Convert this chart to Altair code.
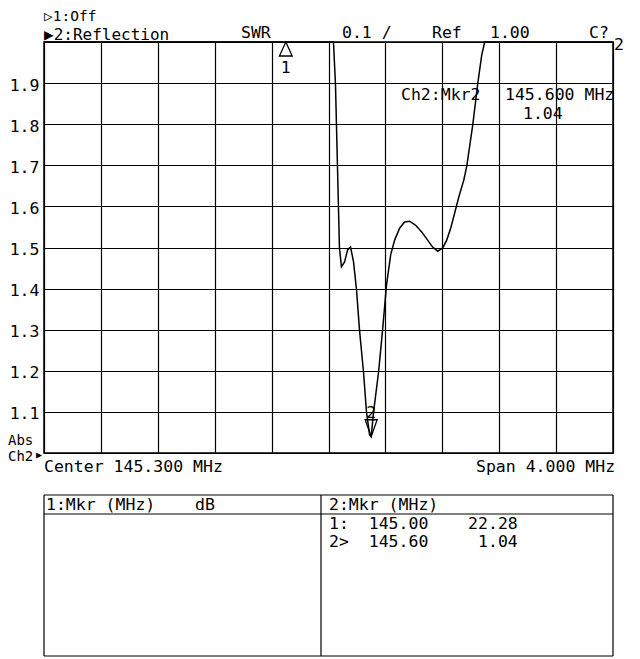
import altair as alt
import pandas as pd

freq_mhz = [143.30, 144.00, 144.60, 145.00, 145.335, 145.349, 145.363, 145.377, 145.391,
            145.413, 145.434, 145.455, 145.476, 145.497, 145.518, 145.546, 145.567, 145.589,
            145.600, 145.617, 145.652, 145.680, 145.708, 145.737, 145.765, 145.800, 145.835,
            145.870, 145.913, 145.955, 145.997, 146.032, 146.068, 146.103, 146.131, 146.159,
            146.187, 146.216, 146.251, 146.272, 146.314, 146.349, 146.377, 146.398, 146.600,
            147.000, 147.300]
swr = [31.0, 27.5, 24.6, 22.28, 2.02, 1.898, 1.698, 1.499, 1.453,
       1.465, 1.494, 1.501, 1.465, 1.397, 1.299, 1.197, 1.100, 1.044,
       1.040, 1.100, 1.197, 1.299, 1.409, 1.482, 1.518, 1.547, 1.562,
       1.564, 1.554, 1.538, 1.518, 1.501, 1.491, 1.499, 1.518, 1.547,
       1.584, 1.623, 1.664, 1.698, 1.798, 1.898, 1.968, 2.00, 2.6,
       4.0, 6.0]
marker_ids = ["1", "2"]
marker_freq = [145.00, 145.60]
marker_swr = [22.28, 1.04]
x_grid = [143.3, 143.7, 144.1, 144.5, 144.9, 145.3, 145.7, 146.1, 146.5, 146.9, 147.3]
y_grid = [1.0, 1.1, 1.2, 1.3, 1.4, 1.5, 1.6, 1.7, 1.8, 1.9, 2.0]

FONT = "DejaVu Sans Mono"
FS = 16.5
NB = "\u00a0"
X0, Y0 = 44, 42      # page position of plot area
W, H = 569, 411

trace = pd.DataFrame({"freq": freq_mhz, "swr": swr})
mk = pd.DataFrame({"id": marker_ids, "freq": marker_freq, "swr": marker_swr})
one = alt.Data(values=[{}])

xs = alt.Scale(domain=[143.3, 147.3], nice=False, zero=False)
ys = alt.Scale(domain=[1.0, 2.0], nice=False, zero=False, clamp=True)

line = alt.Chart(trace).mark_line(color="black", strokeWidth=1.5).encode(
    x=alt.X("freq:Q", scale=xs, title=None,
            axis=alt.Axis(values=x_grid, labels=False, ticks=False, domain=False,
                          grid=True, gridColor="black", gridOpacity=1, gridWidth=1.2)),
    y=alt.Y("swr:Q", scale=ys, title=None,
            axis=alt.Axis(values=y_grid, ticks=False, tickSize=0, domain=False,
                          grid=True, gridColor="black", gridOpacity=1, gridWidth=1.2,
                          labelExpr="datum.value > 1.05 && datum.value < 1.95 ? format(datum.value, '.1f') : ''",
                          labelFont=FONT, labelFontSize=FS, labelColor="black",
                          labelPadding=5, labelBaseline="alphabetic", labelOffset=7)),
)

m1 = alt.Chart(mk).transform_filter("datum.id == '1'").mark_point(
    shape="M0,0L0.8,1.75L-0.8,1.75Z", filled=False, color="black", size=256, strokeWidth=1.3, opacity=1
).encode(x=alt.X("freq:Q", scale=xs), y=alt.Y("swr:Q", scale=ys))
m1t = alt.Chart(mk).transform_filter("datum.id == '1'").mark_text(
    font=FONT, fontSize=FS, color="black", align="center", baseline="alphabetic", yOffset=31
).encode(x=alt.X("freq:Q", scale=xs), y=alt.Y("swr:Q", scale=ys), text="id:N")
m2 = alt.Chart(mk).transform_filter("datum.id == '2'").mark_point(
    shape="M-0.75,-2.1L0.75,-2.1L0,0Z", filled=False, color="black", size=256, strokeWidth=1.3, opacity=1
).encode(x=alt.X("freq:Q", scale=xs), y=alt.Y("swr:Q", scale=ys))
m2t = alt.Chart(mk).transform_filter("datum.id == '2'").mark_text(
    font=FONT, fontSize=FS, color="black", align="center", baseline="alphabetic", yOffset=-19
).encode(x=alt.X("freq:Q", scale=xs), y=alt.Y("swr:Q", scale=ys), text="id:N")


def txt(s, px, py, align="left", size=FS):
    return alt.Chart(one).mark_text(
        text=s.replace(" ", NB), align=align, baseline="alphabetic", font=FONT,
        fontSize=size, color="black"
    ).encode(x=alt.value(px - X0), y=alt.value(py - Y0))


def hline(px1, px2, py):
    return alt.Chart(one).mark_rule(color="black", strokeWidth=1.2).encode(
        x=alt.value(px1 - X0), x2=alt.value(px2 - X0), y=alt.value(py - Y0))


def vline(px, py1, py2):
    return alt.Chart(one).mark_rule(color="black", strokeWidth=1.2).encode(
        x=alt.value(px - X0), y=alt.value(py1 - Y0), y2=alt.value(py2 - Y0))


texts = [
    txt("▷1:Off", 44, 21, size=14.5),
    txt("▶2:Reflection", 44, 39.5, size=16),
    txt("SWR", 241, 38),
    txt("0.1 /", 342, 38),
    txt("Ref", 432, 38),
    txt("1.00", 490, 38),
    txt("C?", 589, 38),
    txt("2", 614, 50),
    txt("Ch2:Mkr2", 401, 100),
    txt("145.600 MHz", 505, 100),
    txt("1.04", 523, 119),
    txt("Abs", 8, 445, size=14),
    txt("Ch2", 8, 461, size=14),
    txt("▶", 36, 458, size=10),
    txt("Center 145.300 MHz", 44, 472),
    txt("Span 4.000 MHz", 476, 472),
    txt("1:Mkr (MHz)    dB", 46, 510),
    txt("2:Mkr (MHz)", 329, 510),
    txt("1:  145.00    22.28", 329, 529),
    txt("2>  145.60     1.04", 329, 547),
]

table = [
    hline(44, 613, 495),
    hline(44, 613, 514),
    hline(44, 613, 656),
    vline(44, 495, 656),
    vline(613, 495, 656),
    vline(321, 495, 656),
]

chart = alt.layer(line, m1, m1t, m2, m2t, *table, *texts).properties(
    width=W, height=H,
    autosize=alt.AutoSizeParams(type="none"),
    padding={"left": 36, "top": 34, "right": 18, "bottom": 205},
    background="white",
).configure_view(stroke="black", strokeWidth=1.5)

chart.save("out.html", embed_options={"renderer": "svg", "actions": False})
